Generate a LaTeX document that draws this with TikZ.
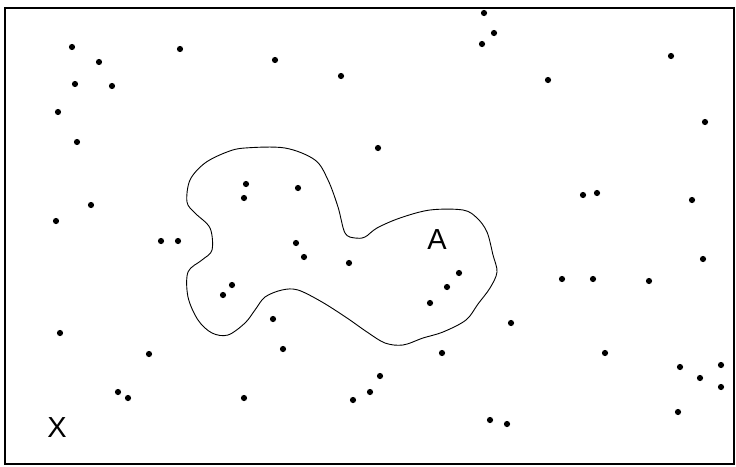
\documentclass[tikz,border=0pt]{standalone}
\usepackage{fontspec}
\setmainfont{Liberation Sans}
\usetikzlibrary{positioning}

\begin{document}
\begin{tikzpicture}[x=1pt,y=-1pt,
    dot/.style={fill=black},
    region/.style={draw,line width=0.9pt,line join=round},
    lbl/.style={inner sep=0pt,font=\fontsize{29}{33}\selectfont}]
    \useasboundingbox (0,0) rectangle (736,466);
    % frame of the whole set X
    \draw[line width=1.4pt] (5,8) rectangle (734,464);
    % the region A
    \draw[region] plot[smooth cycle,tension=0.55] coordinates {
      (227,152) (245,148) (285,148) (315,160) (328,180) (338,207) (345,233)
      (355,238) (365,237) (377,228) (400,218) (430,210) (463,210) (477,218)
      (487,232) (493,255) (497,272) (490,288) (478,304) (466,320) (443,332)
      (423,338) (403,345) (385,343) (367,332) (347,318) (322,302) (298,290)
      (282,290) (265,297) (255,310) (245,323) (228,335) (212,333) (198,320)
      (188,297) (188,272) (202,260) (212,250) (210,228) (195,213) (187,202)
      (190,180) (205,163)};
    % scattered points
    \foreach \px/\py in {72/47,99/62,75/84,112/86,58/112,77/142,180/49,275/60,
      341/76,246/184,244/198,298/188,91/205,56/221,
      484/13,494/33,482/44,548/80,671/56,705/122,378/148,583/195,597/193,692/200,
      161/241,178/241,296/243,304/257,349/263,232/285,223/295,273/319,283/349,
      60/333,149/354,118/392,128/398,244/398,353/400,
      459/273,447/287,430/303,511/323,442/353,380/376,370/392,490/420,507/424,
      562/279,593/279,649/281,703/259,605/353,680/367,721/365,700/378,721/387,678/412}
      \fill[dot] (\px,\py) circle (3.1);
    \node[lbl] (labelA) at (437,240) {A};
    \node[lbl] (labelX) at (57,428) {X};
\end{tikzpicture}
\end{document}
